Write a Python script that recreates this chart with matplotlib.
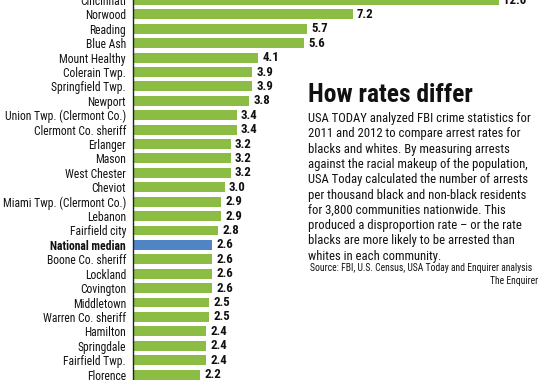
import os
import matplotlib
matplotlib.use("Agg")
import matplotlib.pyplot as plt
from matplotlib import font_manager as fm
from matplotlib.font_manager import FontProperties

categories = ["Cincinnati", "Norwood", "Reading", "Blue Ash", "Mount Healthy",
              "Colerain Twp.", "Springfield Twp.", "Newport",
              "Union Twp. (Clermont Co.)", "Clermont Co. sheriff", "Erlanger",
              "Mason", "West Chester", "Cheviot", "Miami Twp. (Clermont Co.)",
              "Lebanon", "Fairfield city", "National median", "Boone Co. sheriff",
              "Lockland", "Covington", "Middletown", "Warren Co. sheriff",
              "Hamilton", "Springdale", "Fairfield Twp.", "Florence"]
values = [12.0, 7.2, 5.7, 5.6, 4.1, 3.9, 3.9, 3.8, 3.4, 3.4, 3.2, 3.2, 3.2, 3.0,
          2.9, 2.9, 2.8, 2.6, 2.6, 2.6, 2.6, 2.5, 2.5, 2.4, 2.4, 2.4, 2.2]
highlight = "National median"

title = "How rates differ"
body_lines = ["USA TODAY analyzed FBI crime statistics for",
              "2011 and 2012 to compare arrest rates for",
              "blacks and whites. By measuring arrests",
              "against the racial makeup of the population,",
              "USA Today calculated the number of arrests",
              "per thousand black and non-black residents",
              "for 3,800 communities nationwide. This",
              "produced a disproportion rate \u2013 or the rate",
              "blacks are more likely to be arrested than",
              "whites in each community."]
source = "Source: FBI, U.S. Census, USA Today and Enquirer analysis"
credit = "The Enquirer"

# ---- find a condensed font if one is installed ----
files = {os.path.basename(f.fname).lower(): f.fname for f in fm.fontManager.ttflist}


def find(cands):
    for c in cands:
        if c.lower() in files:
            return files[c.lower()]
    return None


reg_file = find(["RobotoCondensed-Regular.ttf", "LiberationSansNarrow-Regular.ttf",
                 "NotoSans-Condensed.ttf", "DejaVuSansCondensed.ttf",
                 "OpenSans-CondensedRegular.ttf", "OpenSans_Condensed-Regular.ttf"])
bold_file = find(["RobotoCondensed-Bold.ttf", "LiberationSansNarrow-Bold.ttf",
                  "NotoSans-CondensedBold.ttf", "DejaVuSansCondensed-Bold.ttf",
                  "OpenSans-CondensedBold.ttf", "OpenSans_Condensed-Bold.ttf"])
heavy_file = find(["RobotoCondensed-Black.ttf", "RobotoCondensed-ExtraBold.ttf",
                   "NotoSans-CondensedBlack.ttf", "NotoSans-CondensedExtraBold.ttf",
                   "RobotoCondensed-Bold.ttf", "LiberationSansNarrow-Bold.ttf",
                   "NotoSans-CondensedBold.ttf", "DejaVuSansCondensed-Bold.ttf"])


def fp(kind):
    f = {"reg": reg_file, "bold": bold_file, "heavy": heavy_file}[kind]
    if f:
        return FontProperties(fname=f)
    w = "normal" if kind == "reg" else "bold"
    return FontProperties(family="Liberation Sans", weight=w)


GREEN = "#8bbd45"
BLUE = "#4f85c5"
INK = "#111111"

W, H = 540, 380
fig = plt.figure(figsize=(5.4, 3.8), dpi=100)
renderer = fig.canvas.get_renderer()


def fit_size(text, kind, target_px, maxsize):
    p = fp(kind)
    p.set_size(10)
    t = fig.text(0, 0, text, fontproperties=p)
    w = t.get_window_extent(renderer).width
    t.remove()
    return min(maxsize, 10 * target_px / w)


lab_size = fit_size("Union Twp. (Clermont Co.)", "reg", 121, 10)
val_size = fit_size("3.9", "bold", 17, 10)
title_size = fit_size(title, "heavy", 165, 22)
body_size = fit_size("against the racial makeup of the population,", "reg", 217, 9.5)
src_size = fit_size(source, "reg", 220, 8)

ax_left = 133 / W
ax = fig.add_axes([ax_left, 0, 1 - ax_left, 1])

n = len(categories)
ypos = list(range(n))
colors = [BLUE if c == highlight else GREEN for c in categories]
ax.barh(ypos, values, height=0.69, color=colors)

px_per_unit = 30.5
ax.set_xlim(0, (W - 133) / px_per_unit)
row = 14.5
ax.set_ylim((H + 2.5) / row, 2.5 / row)

for s in ["top", "right", "bottom"]:
    ax.spines[s].set_visible(False)
ax.spines["left"].set_color("#222222")
ax.spines["left"].set_linewidth(1.0)
ax.set_xticks([])
ax.set_yticks(ypos)
ax.set_yticklabels(categories)
ax.tick_params(axis="y", length=0, pad=5)
for lab, c in zip(ax.get_yticklabels(), categories):
    p = fp("bold" if c == highlight else "reg")
    p.set_size(lab_size)
    lab.set_fontproperties(p)
    lab.set_color(INK)

vp = fp("bold")
vp.set_size(val_size)
for y, v in zip(ypos, values):
    ax.text(v + 0.14, y, f"{v:.1f}", va="center", ha="left",
            fontproperties=vp, color=INK)

tp = fp("heavy")
tp.set_size(title_size)
fig.text(308 / W, 1 - 102 / H, title, fontproperties=tp, color=INK,
         va="baseline", ha="left")

bp = fp("reg")
bp.set_size(body_size)
for k, line in enumerate(body_lines):
    fig.text(308 / W, 1 - (122 + 15.3 * k) / H, line, fontproperties=bp,
             color=INK, va="baseline", ha="left")

sp = fp("reg")
sp.set_size(src_size)
fig.text(310 / W, 1 - 271 / H, source, fontproperties=sp, color=INK,
         va="baseline", ha="left")
fig.text(538 / W, 1 - 284 / H, credit, fontproperties=sp, color=INK,
         va="baseline", ha="right")

fig.savefig("out.png", dpi=100)
